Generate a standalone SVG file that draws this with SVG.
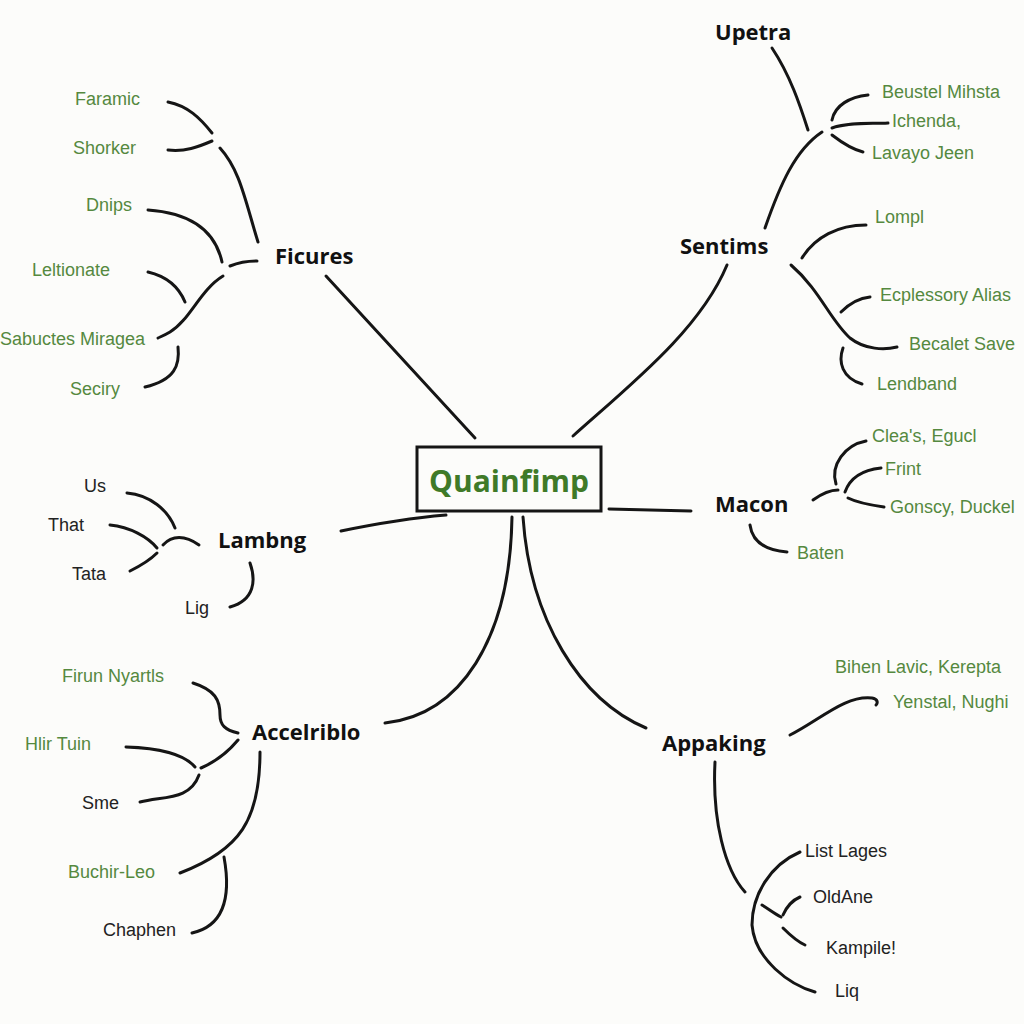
<svg xmlns="http://www.w3.org/2000/svg" width="1024" height="1024" viewBox="0 0 1024 1024">
<style>
.bg{fill:#fcfcfa}
.c{fill:none;stroke:#151515;stroke-width:3;stroke-linecap:round;stroke-linejoin:round}
.n{font-family:"Open Sans","Liberation Sans",sans-serif;font-weight:700;font-size:22px;fill:#111}
.g{font-family:"Liberation Sans","DejaVu Sans",sans-serif;font-size:18px;fill:#55893f}
.k{font-family:"Liberation Sans","DejaVu Sans",sans-serif;font-size:18px;fill:#222}
.main{font-family:"Open Sans","Liberation Sans",sans-serif;font-weight:700;font-size:30px;fill:#3f7a28}
</style>
<rect class="bg" x="0" y="0" width="1024" height="1024"/>
<g id="connectors">
<path class="c" d="M326,276 L475,438"/>
<path class="c" d="M727,265 C700,330 630,385 573,436"/>
<path class="c" d="M609,509 L691,511"/>
<path class="c" d="M341,531 C370,525 410,518 446,515"/>
<path class="c" d="M512,517 C510,640 460,715 385,723"/>
<path class="c" d="M523,517 C530,620 580,700 646,728"/>
<path class="c" d="M168,102 C188,106 200,118 212,133"/>
<path class="c" d="M168,150 C185,152 198,147 212,141"/>
<path class="c" d="M220,148 C240,170 245,200 258,242"/>
<path class="c" d="M148,210 C190,213 215,230 222,262"/>
<path class="c" d="M230,266 C240,262 247,261 257,261"/>
<path class="c" d="M148,272 C165,276 178,285 185,302"/>
<path class="c" d="M223,276 C200,290 190,320 170,332 C165,335 160,337 158,338"/>
<path class="c" d="M178,347 C180,365 175,380 145,387"/>
<path class="c" d="M772,48 C790,75 800,105 808,130"/>
<path class="c" d="M765,228 C780,185 795,150 822,132"/>
<path class="c" d="M832,120 C835,105 850,97 868,95"/>
<path class="c" d="M832,128 C850,122 870,124 888,123"/>
<path class="c" d="M832,135 C845,145 855,150 863,152"/>
<path class="c" d="M802,258 C815,237 838,225 866,225"/>
<path class="c" d="M791,265 C820,290 830,320 850,338 C865,350 885,350 897,347"/>
<path class="c" d="M841,312 C850,303 860,298 870,297"/>
<path class="c" d="M843,348 C838,362 842,378 862,384"/>
<path class="c" d="M127,493 C150,495 168,510 175,528"/>
<path class="c" d="M110,525 C130,527 148,537 157,548"/>
<path class="c" d="M130,571 C140,566 150,560 157,553"/>
<path class="c" d="M163,545 C172,535 185,535 199,545"/>
<path class="c" d="M250,563 C256,580 255,600 230,607"/>
<path class="c" d="M813,500 C820,495 828,490 838,490"/>
<path class="c" d="M866,441 C845,445 830,465 836,484"/>
<path class="c" d="M845,492 C850,478 862,470 881,468"/>
<path class="c" d="M848,498 C858,503 870,505 884,507"/>
<path class="c" d="M750,525 C752,540 762,550 787,552"/>
<path class="c" d="M193,683 C215,690 220,700 220,715 C220,725 225,730 238,733"/>
<path class="c" d="M126,747 C160,748 185,755 195,767"/>
<path class="c" d="M201,768 C215,762 228,752 238,740"/>
<path class="c" d="M140,802 C165,796 190,800 199,775"/>
<path class="c" d="M260,752 C260,820 240,850 180,873"/>
<path class="c" d="M224,857 C230,890 228,925 192,933"/>
<path class="c" d="M790,735 C820,720 845,695 872,698 C878,699 878,703 876,705"/>
<path class="c" d="M715,762 C712,820 725,870 745,892"/>
<path class="c" d="M800,852 C770,865 752,895 752,925 C755,960 790,985 815,992"/>
<path class="c" d="M762,905 C770,910 775,914 781,917"/>
<path class="c" d="M783,915 C787,906 793,900 800,897"/>
<path class="c" d="M783,928 C790,935 796,941 805,945"/>
</g>
<g id="center">
<rect x="417" y="447" width="184" height="64" fill="none" stroke="#151515" stroke-width="3"/>
<text class="main" x="509" y="492" text-anchor="middle">Quainfimp</text>
</g>
<g id="ficures"><text class="n" x="275" y="264">Ficures</text></g>
<g id="sentims"><text class="n" x="680" y="254">Sentims</text></g>
<g id="upetra"><text class="n" x="715" y="40">Upetra</text></g>
<g id="lambng"><text class="n" x="218" y="548">Lambng</text></g>
<g id="macon"><text class="n" x="715" y="512">Macon</text></g>
<g id="accelriblo"><text class="n" x="252" y="740">Accelriblo</text></g>
<g id="appaking"><text class="n" x="662" y="751">Appaking</text></g>
<g id="leaves">
<text class="g" x="75" y="105">Faramic</text>
<text class="g" x="73" y="154">Shorker</text>
<text class="g" x="86" y="211">Dnips</text>
<text class="g" x="32" y="276">Leltionate</text>
<text class="g" x="0" y="345">Sabuctes Miragea</text>
<text class="g" x="70" y="395">Seciry</text>
<text class="g" x="882" y="98">Beustel Mihsta</text>
<text class="g" x="892" y="127">Ichenda,</text>
<text class="g" x="872" y="159">Lavayo Jeen</text>
<text class="g" x="875" y="223">Lompl</text>
<text class="g" x="880" y="301">Ecplessory Alias</text>
<text class="g" x="909" y="350">Becalet Save</text>
<text class="g" x="877" y="390">Lendband</text>
<text class="k" x="84" y="492">Us</text>
<text class="k" x="48" y="531">That</text>
<text class="k" x="72" y="580">Tata</text>
<text class="k" x="185" y="614">Lig</text>
<text class="g" x="872" y="442">Clea's, Egucl</text>
<text class="g" x="885" y="475">Frint</text>
<text class="g" x="890" y="513">Gonscy, Duckel</text>
<text class="g" x="797" y="559">Baten</text>
<text class="g" x="62" y="682">Firun Nyartls</text>
<text class="g" x="25" y="750">Hlir Tuin</text>
<text class="k" x="82" y="809">Sme</text>
<text class="g" x="68" y="878">Buchir-Leo</text>
<text class="k" x="103" y="936">Chaphen</text>
<text class="g" x="835" y="673">Bihen Lavic, Kerepta</text>
<text class="g" x="893" y="708">Yenstal, Nughi</text>
<text class="k" x="805" y="857">List Lages</text>
<text class="k" x="813" y="903">OldAne</text>
<text class="k" x="826" y="954">Kampile!</text>
<text class="k" x="835" y="997">Liq</text>
</g>
</svg>
